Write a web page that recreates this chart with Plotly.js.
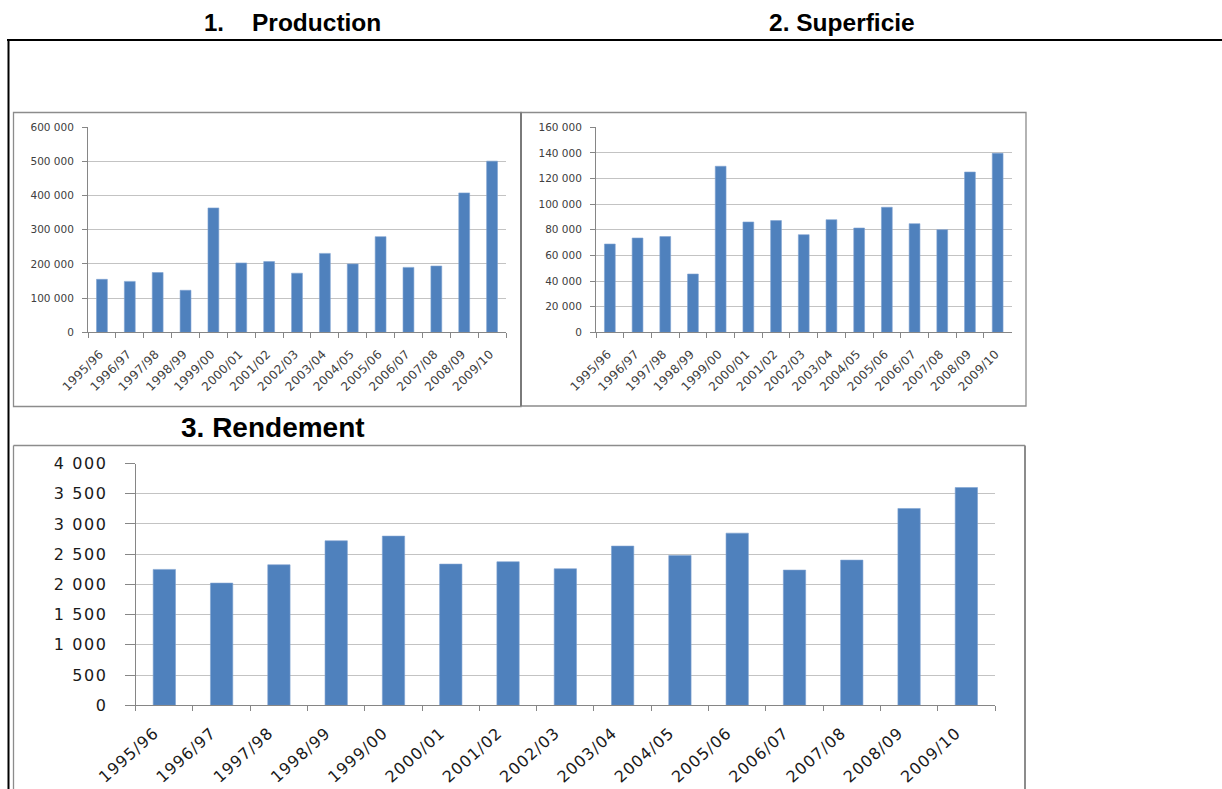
<!DOCTYPE html>
<html>
<head>
<meta charset="utf-8">
<script src="https://cdn.plot.ly/plotly-3.0.1.min.js"></script>
<style>
  html, body { margin: 0; padding: 0; background: #ffffff; }
  #chart { width: 1222px; height: 789px; }
  .y3tick text { letter-spacing: 1.6px; }
  .x3tick text { letter-spacing: 1px; }
  .xtick text, .x2tick text { letter-spacing: 0.3px; }
</style>
</head>
<body>
<div id="chart"></div>
<script>
// ---- Data ----
const campagnes = ["1995/96","1996/97","1997/98","1998/99","1999/00","2000/01","2001/02","2002/03","2003/04","2004/05","2005/06","2006/07","2007/08","2008/09","2009/10"];
const production = [155000,149000,175000,123000,364000,203000,207000,173000,231000,200000,280000,190000,194000,408000,501000];
const superficie = [68900,73600,74700,45500,129600,86100,87200,76200,87900,81400,97600,84800,80100,125100,139700];
const rendement = [2248,2022,2325,2722,2799,2336,2375,2259,2634,2479,2848,2237,2402,3256,3603];

const titles = ["1.", "Production", "2. Superficie", "3. Rendement"];

// ---- Geometry helpers (pixel -> paper) ----
const W = 1222, H = 789;
const px = v => v / W;
const py = v => 1 - v / H;

const barColor = "#4F81BD";
const gridColor = "#C3C3C3";
const axisColor = "#868686";
const boxColor = "#8C8C8C";

function bar(y, xa, ya) {
  return {
    type: "bar", x: campagnes, y: y, xaxis: xa, yaxis: ya,
    marker: { color: barColor, line: { color: "#7FA3D1", width: 0.6 } },
    hoverinfo: "x+y"
  };
}

const smallYFont = { family: "DejaVu Sans, sans-serif", size: 10.5, color: "#404040" };
const smallXFont = { family: "DejaVu Sans, sans-serif", size: 12, color: "#404040" };
const bigYFont = { family: "DejaVu Sans, sans-serif", size: 16, color: "#1a1a1a" };
const bigXFont = { family: "DejaVu Sans, sans-serif", size: 16, color: "#1a1a1a" };

function xAxis(domain, font, anchor, standoff, angle, shift) {
  return {
    domain: domain, anchor: anchor, type: "category",
    tickson: "boundaries", ticks: "outside", ticklen: 5, tickwidth: 1, tickcolor: axisColor,
    showline: true, linecolor: axisColor, linewidth: 1,
    showgrid: false, zeroline: false, tickangle: angle, tickfont: font,
    ticklabelstandoff: standoff, ticklabelshift: shift, fixedrange: true
  };
}
function yAxis(domain, range, dtick, font, anchor, ticklen, standoff) {
  return {
    domain: domain, anchor: anchor, range: range, dtick: dtick, tick0: 0,
    tickformat: ",d", ticks: "outside", ticklen: ticklen, tickwidth: 1, tickcolor: axisColor,
    showline: true, linecolor: axisColor, linewidth: 1,
    showgrid: true, gridcolor: gridColor, gridwidth: 1, zeroline: false,
    tickfont: font, ticklabelstandoff: standoff, fixedrange: true
  };
}

const data = [
  bar(production, "x", "y"),
  bar(superficie, "x2", "y2"),
  bar(rendement, "x3", "y3")
];

const y12 = [py(332.3), py(127.3)];

const layout = {
  width: W, height: H,
  margin: { l: 0, r: 0, t: 0, b: 0, pad: 0 },
  paper_bgcolor: "#ffffff", plot_bgcolor: "rgba(0,0,0,0)",
  showlegend: false, separators: ", ",
  bargap: 0.61,
  xaxis: xAxis([px(88), px(506)], smallXFont, "y", 9, -45, -2),
  yaxis: yAxis(y12, [0, 600000], 100000, smallYFont, "x", 5, 6),
  xaxis2: xAxis([px(596), px(1011.5)], smallXFont, "y2", 9, -45, -2),
  yaxis2: yAxis(y12, [0, 160000], 20000, smallYFont, "x2", 5, 6),
  xaxis3: xAxis([px(135.7), px(995)], bigXFont, "y3", 11, -42, -10),
  yaxis3: yAxis([py(705.3), py(463.5)], [0, 4000], 500, bigYFont, "x3", 10, 14),
  shapes: [
    // black document frame
    { type: "line", xref: "paper", yref: "paper", x0: px(7), x1: px(1222), y0: py(40), y1: py(40), line: { color: "#000000", width: 2 } },
    { type: "line", xref: "paper", yref: "paper", x0: px(8.5), x1: px(8.5), y0: py(39), y1: py(800), line: { color: "#000000", width: 2 } },
    // chart 1 box
    { type: "rect", xref: "paper", yref: "paper", x0: px(13.5), x1: px(521), y0: py(406.5), y1: py(112.5), line: { color: boxColor, width: 1.3 } },
    // chart 2 box
    { type: "rect", xref: "paper", yref: "paper", x0: px(521), x1: px(1026), y0: py(406), y1: py(112.5), line: { color: boxColor, width: 1.3 } },
    { type: "line", xref: "paper", yref: "paper", x0: px(521), x1: px(521), y0: py(406), y1: py(112.5), line: { color: "#7a7a7a", width: 2 } },
    // chart 3 box (open at bottom)
    { type: "line", xref: "paper", yref: "paper", x0: px(13.5), x1: px(1025), y0: py(445.5), y1: py(445.5), line: { color: boxColor, width: 1.3 } },
    { type: "line", xref: "paper", yref: "paper", x0: px(13.5), x1: px(13.5), y0: py(445.5), y1: py(800), line: { color: boxColor, width: 1.3 } },
    { type: "line", xref: "paper", yref: "paper", x0: px(1025), x1: px(1025), y0: py(445.5), y1: py(800), line: { color: boxColor, width: 2 } }
  ],
  annotations: [
    { text: "<b>" + titles[0] + "</b>", xref: "paper", yref: "paper", x: px(202), y: py(22), xanchor: "left", yanchor: "middle", showarrow: false, font: { family: "Liberation Sans, Arial, sans-serif", size: 24, color: "#000" } },
    { text: "<b>" + titles[1] + "</b>", xref: "paper", yref: "paper", x: px(250), y: py(22), xanchor: "left", yanchor: "middle", showarrow: false, font: { family: "Liberation Sans, Arial, sans-serif", size: 24.5, color: "#000" } },
    { text: "<b>" + titles[2] + "</b>", xref: "paper", yref: "paper", x: px(767), y: py(22), xanchor: "left", yanchor: "middle", showarrow: false, font: { family: "Liberation Sans, Arial, sans-serif", size: 24.5, color: "#000" } },
    { text: "<b>" + titles[3] + "</b>", xref: "paper", yref: "paper", x: px(179), y: py(427), xanchor: "left", yanchor: "middle", showarrow: false, font: { family: "Liberation Sans, Arial, sans-serif", size: 28, color: "#000" } }
  ]
};

Plotly.newPlot("chart", data, layout, { displayModeBar: false, staticPlot: true });
</script>
</body>
</html>
